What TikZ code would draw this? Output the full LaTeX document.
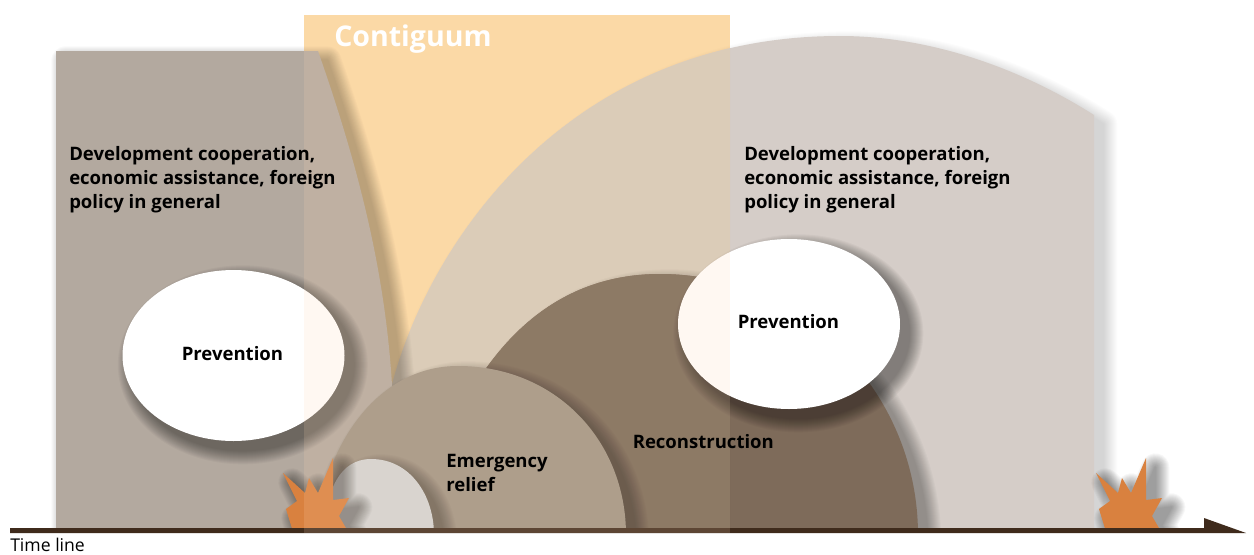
\documentclass[tikz,border=0pt]{standalone}
\usepackage{fontspec}
\setmainfont{Open Sans}
\definecolor{contbase}{HTML}{FBDAA4}
\definecolor{contover}{HTML}{FFD8B4}
\definecolor{leftgray}{HTML}{B3A99F}
\definecolor{rightgray}{HTML}{D5CDC8}
\definecolor{rightin}{HTML}{D5CAB9}
\definecolor{recon}{HTML}{7E6B5A}
\definecolor{reconin}{HTML}{786857}
\definecolor{emerg}{HTML}{9F9384}
\definecolor{smallc}{HTML}{D2D4D5}
\definecolor{burstc}{HTML}{D9813F}
\definecolor{axisc}{HTML}{3F2B1C}
\tikzset{
  lab/.style={font=\fontsize{13.9}{18}\selectfont\bfseries, align=left, anchor=west, inner sep=0pt, text=black},
}
\def\pLeft{(56,51) -- (318,51) .. controls (358,165) and (385,270) .. (392,385) -- (392,535) -- (56,535) -- cycle}
\def\pRight{(392,385) .. controls (430,240) and (570,36) .. (840,36) .. controls (930,36) and (1020,68) .. (1094,115) -- (1094,535) -- (392,535) -- cycle}
\def\pRecon{(918,535) .. controls (918,390) and (800,274) .. (660,274) .. controls (590,274) and (525,305) .. (475,385) -- (430,535) -- cycle}
\def\pEmerg{(315,535) .. controls (325,440) and (380,366) .. (458,366) .. controls (555,366) and (626,440) .. (626,535) -- cycle}
\def\pSmall{(325,535) .. controls (325,490) and (340,459) .. (371,459) .. controls (410,459) and (434,495) .. (434,535) -- cycle}
\def\pBurst{(1096,473) -- (1110,501) -- (1099,509) -- (1107,535) -- (1163,535) -- (1152,516) -- (1162,498) -- (1146,500) -- (1146,458) -- (1131,493) -- (1122,478) -- (1118,493) -- cycle}
% #1 strength of one layer, #2 path
\newcommand{\softshadow}[2]{%
  \foreach \w in {28,26,24,22,20,18,16,14,12,10,8,6,4,2}{%
    \begin{scope}[transparency group, opacity=#1]
      \filldraw[black, line width=\w*.75pt, line join=round, xshift=7pt, yshift=-7pt] #2;
    \end{scope}
  }%
}
\begin{document}
\begin{tikzpicture}[x=.75pt,y=-.75pt]
\useasboundingbox (0,0) rectangle (1254,554);
\fill[white] (0,0) rectangle (1254,554);
\fill[contbase] (304,15) rectangle (730,528);
\begin{scope}
  \clip (0,0) rectangle (1254,528);
  \softshadow{.012}{\pRight}
  \fill[rightgray] \pRight;
  \begin{scope}
    \clip (304,15) rectangle (730,528);
    \fill[rightin] \pRight;
  \end{scope}
  \softshadow{.022}{\pLeft}
  \fill[leftgray] \pLeft;
  \softshadow{.022}{\pRecon}
  \fill[recon] \pRecon;
  \begin{scope}
    \clip (304,15) rectangle (730,528);
    \fill[reconin] \pRecon;
  \end{scope}
  \softshadow{.022}{\pEmerg}
  \fill[emerg] \pEmerg;
  \softshadow{.022}{\pSmall}
  \fill[smallc] \pSmall;
  \begin{scope}[shift={(-813,0)}]
    \softshadow{.032}{\pBurst}
    \fill[burstc] \pBurst;
  \end{scope}
  \softshadow{.032}{\pBurst}
  \fill[burstc] \pBurst;
  \softshadow{.03}{(233.5,355.5) ellipse [x radius=111, y radius=85.5]}
  \fill[white] (233.5,355.5) ellipse [x radius=111, y radius=85.5];
  \softshadow{.03}{(789,324) ellipse [x radius=111, y radius=85]}
  \fill[white] (789,324) ellipse [x radius=111, y radius=85];
\end{scope}
\fill[axisc] (10,528) -- (1204,528) -- (1204,518) -- (1246,533) -- (10,533) -- cycle;
\fill[contover, opacity=.16] (304,15) rectangle (730,533);
\node[lab, text=white, font=\fontsize{21.4}{26}\selectfont\bfseries] (cont) at (334,39) {Contiguum};
\node[lab] (devl) at (69,180) {Development cooperation,\\economic assistance, foreign\\policy in general};
\node[lab] (devr) at (744,180) {Development cooperation,\\economic assistance, foreign\\policy in general};
\node[lab] (prevl) at (181.5,354) {Prevention};
\node[lab] (prevr) at (737.5,322) {Prevention};
\node[lab] (rec) at (632.5,442) {Reconstruction};
\node[lab] (eme) at (446,473) {Emergency\\relief};
\node[lab, font=\fontsize{13.2}{15}\selectfont] (time) at (10,544.5) {Time line};
\end{tikzpicture}
\end{document}
